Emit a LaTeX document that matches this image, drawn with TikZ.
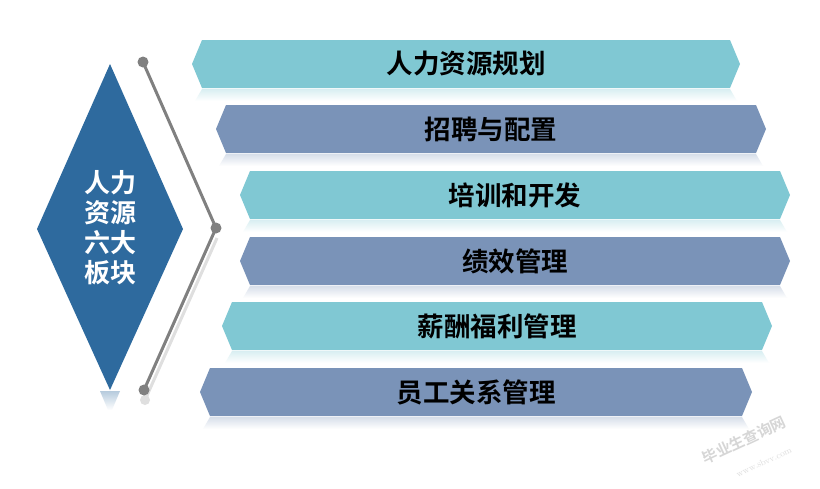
\documentclass[tikz,border=0pt]{standalone}
\usepackage{fontspec}
\usetikzlibrary{calc}
\newfontfamily\cjk{Noto Sans CJK SC}
\IfFontExistsTF{Noto Sans CJK SC Bold}
  {\newfontfamily\cjkbold{Noto Sans CJK SC Bold}}
  {\IfFontExistsTF{Noto Sans CJK SC:style=Bold}
     {\newfontfamily\cjkbold{Noto Sans CJK SC:style=Bold}}
     {\newfontfamily\cjkbold[FakeBold=3]{Noto Sans CJK SC}}}
\definecolor{bannerteal}{RGB}{128,200,211}
\definecolor{bannerslate}{RGB}{122,147,184}
\definecolor{diamondblue}{RGB}{46,106,158}
\definecolor{bracketgray}{RGB}{128,128,128}
\newcommand\mybanner[7]{%
  \shade[top color=#5!30, bottom color=white]
    (#1+10,#4+1) -- (#2-10,#4+1) -- (#2-3,#4+13) -- (#1+3,#4+13) -- cycle;
  \path[fill=#5] (#1,{(#3+#4)/2}) -- (#1+10,#3) -- (#2-10,#3) -- (#2,{(#3+#4)/2})
    -- (#2-10,#4) -- (#1+10,#4) -- cycle;
  \node[bannertext] (#7) at ({(#1+#2)/2},{(#3+#4)/2}) {#6};
}
\begin{document}
\begin{tikzpicture}[x=1pt,y=-1pt,
  bannertext/.style={font=\cjkbold\fontsize{26.5}{26.5}\selectfont, text=black, inner sep=0pt},
  diamondtext/.style={font=\cjkbold\fontsize{26}{30}\selectfont, text=white, align=center, inner sep=0pt},
  bracketline/.style={draw=bracketgray, line width=3pt, line join=miter},
  bracketshadow/.style={draw=bracketgray!25, line width=3pt},
  dotstyle/.style={fill=bracketgray},
  watermark/.style={text=black!16, rotate=25, inner sep=0pt}]
\useasboundingbox[fill=white] (0,0) rectangle (820,488);

% diamond
\coordinate (dl) at (37,229);
\coordinate (dr) at (183,229);
\coordinate (dt) at (110,64);
\coordinate (db) at (110,390);
\shade[top color=diamondblue!35, bottom color=white] (100,391) -- (120,391) -- (112,410) -- (108,410) -- cycle;
\fill[diamondblue] (dl) -- (dt) -- (dr) -- (db) -- cycle;
\node[diamondtext] (dtext) at (110,228) {人力\\资源\\六大\\板块};

% bracket
\coordinate (bt) at (143,62);
\coordinate (bm) at (216,228);
\coordinate (bb) at (144,390);
\draw[bracketshadow] ($(bm)+(1,10)$) -- ($(bb)+(1,10)$);
\fill[bracketgray!25] ($(bb)+(1,10)$) circle (5);
\draw[bracketline] (bt) -- (bm) -- (bb);
\fill[dotstyle] (bt) circle (5.5);
\fill[dotstyle] (bm) circle (5.5);
\fill[dotstyle] (bb) circle (5.5);

% banners
\mybanner{192}{740}{40}{88}{bannerteal}{人力资源规划}{b1}
\mybanner{216}{766}{105}{153}{bannerslate}{招聘与配置}{b2}
\mybanner{240}{790}{171}{219}{bannerteal}{培训和开发}{b3}
\mybanner{240}{790}{237}{285}{bannerslate}{绩效管理}{b4}
\mybanner{222}{772}{302}{350}{bannerteal}{薪酬福利管理}{b5}
\mybanner{200}{752}{368}{416}{bannerslate}{员工关系管理}{b6}

% watermark
\node[watermark, font=\cjkbold\fontsize{15}{15}\selectfont] (wm1) at (744,440) {毕业生查询网};
\node[watermark, text=black!13, font=\fontsize{9}{9}\selectfont] (wm2) at (764,462) {www.sbvv.com};
\end{tikzpicture}
\end{document}
